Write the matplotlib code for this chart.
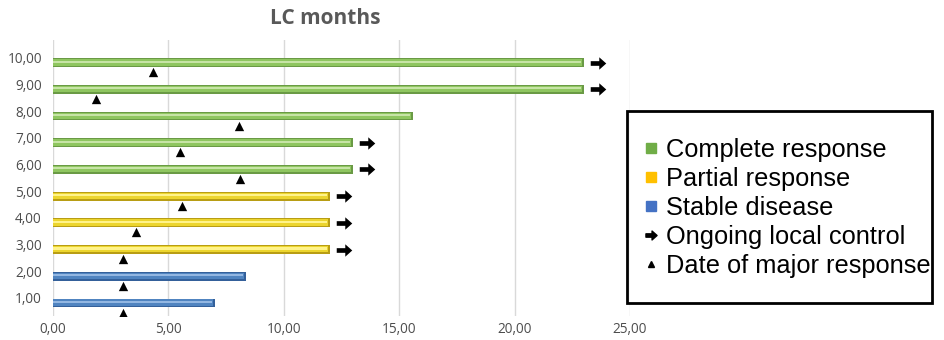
import matplotlib
matplotlib.use("Agg")
import matplotlib.pyplot as plt
from matplotlib.path import Path
from matplotlib.patches import Rectangle
from matplotlib.lines import Line2D
from matplotlib.transforms import ScaledTranslation

# ---- data ----
patients = [1, 2, 3, 4, 5, 6, 7, 8, 9, 10]
lc_months = [7.0, 8.35, 12.0, 12.0, 12.0, 13.0, 13.0, 15.6, 23.0, 23.0]
response = ["SD", "SD", "PR", "PR", "PR", "CR", "CR", "CR", "CR", "CR"]
major_response = [3.05, 3.05, 3.05, 3.6, 5.6, 8.1, 5.5, 8.05, 1.85, 4.35]
ongoing = [False, False, True, True, True, True, True, False, True, True]
x_ticks = [0, 5, 10, 15, 20, 25]
y_ticks = [1, 2, 3, 4, 5, 6, 7, 8, 9, 10]

# ---- styles ----
bar_styles = {
    "CR": ("#6a9a45", "#8fc660", "#c7e4a6"),
    "PR": ("#b89d14", "#ecd52e", "#fff38a"),
    "SD": ("#34609a", "#5084c0", "#93b7e2"),
}
legend_colors = {"CR": "#70ad47", "PR": "#ffc000", "SD": "#4472c4"}

arrow_path = Path(
    [(-1.0, -0.3), (0.1, -0.3), (0.1, -0.8), (1.0, 0.0),
     (0.1, 0.8), (0.1, 0.3), (-1.0, 0.3), (-1.0, -0.3)],
    [Path.MOVETO] + [Path.LINETO] * 6 + [Path.CLOSEPOLY],
)

fig = plt.figure(figsize=(9.45, 3.4), dpi=100)
ax = fig.add_axes([53 / 945, 1 - 316 / 340, (630 - 53) / 945, (316 - 40) / 340])

for p, v, r in zip(patients, lc_months, response):
    dark, mid, light = bar_styles[r]
    ax.barh(p, v, height=0.33, color=dark, zorder=3)
    ax.barh(p + 0.01, v - 0.08, height=0.24, color=mid, zorder=4)
    ax.barh(p + 0.04, v - 0.12, height=0.08, color=light, zorder=5)

ax.scatter(major_response, [p - 0.36 for p in patients], marker="^",
           s=45, color="black", zorder=6, linewidths=0)

arr_x = [v + 0.6 for v, o in zip(lc_months, ongoing) if o]
arr_y = [p for p, o in zip(patients, ongoing) if o]
ax.scatter(arr_x, arr_y, marker=arrow_path, s=125, color="black",
           zorder=6, linewidths=0)

ax.set_xlim(0, 25)
ax.set_ylim(0.51, 10.85)
ax.set_xticks(x_ticks)
ax.set_xticklabels([f"{t:.2f}".replace(".", ",") for t in x_ticks])
ax.set_yticks(y_ticks)
ax.set_yticklabels([f"{t:.2f}".replace(".", ",") for t in y_ticks])
ax.grid(axis="x", color="#d9d9d9", linewidth=1, zorder=0)
ax.set_axisbelow(True)
for s in ax.spines.values():
    s.set_visible(False)
ax.tick_params(axis="both", length=0, labelsize=9.8, labelcolor="#4d4d4d",
               labelfontfamily="Open Sans")
ax.tick_params(axis="y", pad=8)
ax.tick_params(axis="x", pad=4)
for lab in ax.get_yticklabels():
    lab.set_transform(lab.get_transform() + ScaledTranslation(0, 5 / 100, fig.dpi_scale_trans))

fig.text(325 / 945, 1 - 18 / 340, "LC months", ha="center", va="center",
         fontsize=15, fontweight="bold", color="#595959", family="Open Sans")

# legend
fig.patches.append(Rectangle((627 / 945, 1 - 303 / 340), (932 - 627) / 945,
                             (303 - 111) / 340, transform=fig.transFigure,
                             fill=False, edgecolor="black", linewidth=2))
handles = [
    Line2D([], [], linestyle="none", marker="s", markersize=7,
           color=legend_colors["CR"], label="Complete response"),
    Line2D([], [], linestyle="none", marker="s", markersize=7,
           color=legend_colors["PR"], label="Partial response"),
    Line2D([], [], linestyle="none", marker="s", markersize=7,
           color=legend_colors["SD"], label="Stable disease"),
    Line2D([], [], linestyle="none", marker=arrow_path, markersize=8,
           color="black", label="Ongoing local control"),
    Line2D([], [], linestyle="none", marker="^", markersize=5,
           color="black", label="Date of major response"),
]
fig.legend(handles=handles, loc="center left",
           bbox_to_anchor=(643 / 945, 1 - 208 / 340), frameon=False,
           prop={"family": "Liberation Sans", "size": 18.3},
           handlelength=0.6, handletextpad=0.3, labelspacing=0.2,
           borderpad=0, borderaxespad=0)

fig.savefig("out.png", dpi=100)
